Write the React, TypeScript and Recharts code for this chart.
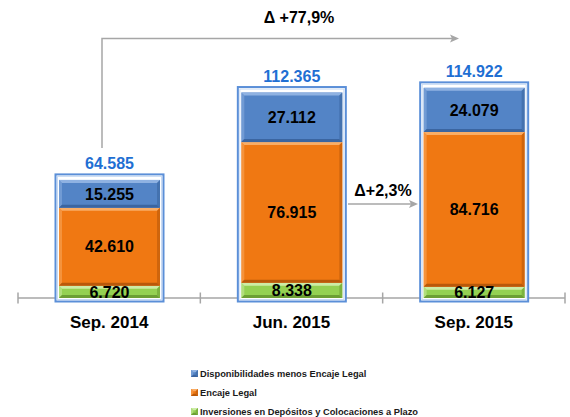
import React from "react";
import * as R from "recharts";
import { Bar, BarChart, Customized, LabelList, Legend, ReferenceLine, XAxis, YAxis } from "recharts";

const categories = ["Sep. 2014", "Jun. 2015", "Sep. 2015"];
const inversiones = [6720, 8338, 6127];
const encaje = [42610, 76915, 84716];
const disponibilidades = [15255, 27112, 24079];
const totals = [64585, 112365, 114922];

const data = categories.map((cat, i) => ({
  cat,
  inv: inversiones[i],
  enc: encaje[i],
  disp: disponibilidades[i],
  total: totals[i],
}));

const FONT = "'Liberation Sans', Arial, sans-serif";
const AXIS_GRAY = "#a6a6a6";
const MARGIN = { top: 42, right: 5, left: 18, bottom: 89 };
const CHART_W = 570;
const CHART_H = 417;
const XAXIS_H = 30;

const palette = {
  disp: { fill: "#5384c6", light: "#8fb2e2", dark: "#3b65a0" },
  enc: { fill: "#f07812", light: "#f9ad66", dark: "#b9590a" },
  inv: { fill: "#94d152", light: "#cdeca6", dark: "#6c9f34" },
};

const legendItems = [
  { label: "Disponibilidades menos Encaje Legal", ...palette.disp },
  { label: "Encaje Legal", ...palette.enc },
  { label: "Inversiones en Depósitos y Colocaciones a Plazo", ...palette.inv },
];

const fmt = (v: any) => String(v).replace(/\B(?=(\d{3})+(?!\d))/g, ".");

function Bevel({ x, y, width: w, height: h, fill, light, dark }: any) {
  if (!h || h <= 0) return null;
  const b = Math.min(3, h / 3);
  return (
    <g>
      <rect x={x} y={y} width={w} height={h} fill={fill} />
      <polygon points={`${x},${y} ${x + w},${y} ${x + w - b},${y + b} ${x + b},${y + b}`} fill={light} />
      <polygon points={`${x},${y} ${x + b},${y + b} ${x + b},${y + h - b} ${x},${y + h}`} fill={light} opacity={0.5} />
      <polygon points={`${x + w},${y} ${x + w - b},${y + b} ${x + w - b},${y + h - b} ${x + w},${y + h}`} fill={dark} opacity={0.6} />
      <polygon points={`${x},${y + h} ${x + w},${y + h} ${x + w - b},${y + h - b} ${x + b},${y + h - b}`} fill={dark} />
    </g>
  );
}

// bottom segment also draws the framed box and the total above the stack
function BaseSegment(props: any) {
  const { x, y, width: w, height: h, payload } = props;
  const ppu = h / payload.inv;
  const bottom = y + h;
  const top = bottom - payload.total * ppu;
  return (
    <g>
      <rect x={x - 3.5} y={top - 5.5} width={w + 7} height={bottom - top + 9} fill="#fff" stroke="#5b8fd8" strokeWidth={2} />
      <rect x={x - 1.5} y={top - 3.5} width={w + 3} height={bottom - top + 5} fill="none" stroke="#c9dbf3" strokeWidth={1} />
      <text x={x + w / 2} y={top - 11} textAnchor="middle" fontFamily={FONT} fontWeight="bold" fontSize={16} fill="#1f6fd3">
        {fmt(payload.total)}
      </text>
      <Bevel {...props} {...palette.inv} />
    </g>
  );
}

function CategoryTick({ x, y, payload }: any) {
  return (
    <text x={x} y={y + 30} textAnchor="middle" fontFamily={FONT} fontWeight="bold" fontSize={17} fill="#000">
      {payload.value}
    </text>
  );
}

// axis base line with boundary ticks, drawn underneath the bars
function AxisBase() {
  const hook = (R as any).usePlotArea;
  const area = hook
    ? hook()
    : {
        x: MARGIN.left,
        y: MARGIN.top,
        width: CHART_W - MARGIN.left - MARGIN.right,
        height: CHART_H - MARGIN.top - MARGIN.bottom - XAXIS_H,
      };
  if (!area) return null;
  const base = area.y + area.height;
  const step = area.width / categories.length;
  const edges = [0, 1, 2, 3].map((i) => area.x + i * step);
  return (
    <g stroke={AXIS_GRAY} strokeWidth={1.5}>
      <line x1={area.x} y1={base} x2={area.x + area.width} y2={base} />
      {edges.map((ex) => (
        <line key={ex} x1={ex} y1={base - 5.5} x2={ex} y2={base + 5.5} />
      ))}
    </g>
  );
}

function Annotations() {
  return (
    <g fontFamily={FONT} fontWeight="bold" fontSize={16} fill="#000">
      <polyline points="102,148 102,38.5 452,38.5" fill="none" stroke={AXIS_GRAY} strokeWidth={1.5} />
      <polygon points="459,38.5 450,34.5 452,38.5 450,42.5" fill={AXIS_GRAY} />
      <text x={299} y={23} textAnchor="middle">Δ +77,9%</text>
      <line x1={348} y1={204} x2={411} y2={204} stroke={AXIS_GRAY} strokeWidth={1.5} />
      <polygon points="418,204 409,200 411,204 409,208" fill={AXIS_GRAY} />
      <text x={383} y={196} textAnchor="middle">Δ+2,3%</text>
    </g>
  );
}

function LegendContent() {
  return (
    <div style={{ fontFamily: FONT, fontWeight: "bold", fontSize: 9.3, color: "#1a1a1a" }}>
      {legendItems.map((it) => (
        <div key={it.label} style={{ display: "flex", alignItems: "center", height: 19, whiteSpace: "nowrap" }}>
          <svg width={8} height={8} style={{ marginRight: 1 }}>
            <Bevel x={0} y={0} width={7} height={7} fill={it.fill} light={it.light} dark={it.dark} />
          </svg>
          <span>{it.label}</span>
        </div>
      ))}
    </div>
  );
}

const labelStyle = { fontFamily: FONT, fontWeight: "bold", fontSize: 16, fill: "#000" } as any;

export default function App() {
  return (
    <div style={{ position: "absolute", left: 0, top: 0, width: CHART_W, height: CHART_H, background: "#fff" }}>
      <BarChart width={CHART_W} height={CHART_H} data={data} margin={MARGIN}>
        <XAxis
          dataKey="cat"
          height={XAXIS_H}
          tickLine={false}
          tickSize={0}
          tickMargin={0}
          tick={<CategoryTick />}
          axisLine={false}
        />
        <YAxis hide domain={[0, 140000]} />
        <Customized component={AxisBase} />
        <Bar dataKey="inv" stackId="a" barSize={101} isAnimationActive={false} shape={(p: any) => <BaseSegment {...p} />}>
          <LabelList dataKey="inv" position="center" formatter={fmt} style={labelStyle} />
        </Bar>
        <Bar dataKey="enc" stackId="a" barSize={101} isAnimationActive={false} shape={(p: any) => <Bevel {...p} {...palette.enc} />}>
          <LabelList dataKey="enc" position="center" formatter={fmt} style={labelStyle} />
        </Bar>
        <Bar dataKey="disp" stackId="a" barSize={101} isAnimationActive={false} shape={(p: any) => <Bevel {...p} {...palette.disp} />}>
          <LabelList dataKey="disp" position="center" formatter={fmt} style={labelStyle} />
        </Bar>
        <Customized component={Annotations} />
        <Legend
          layout="vertical"
          verticalAlign="middle"
          align="center"
          wrapperStyle={{ top: 364, left: 191, width: 270, height: 57 }}
          content={() => <LegendContent />}
        />
      </BarChart>
    </div>
  );
}
